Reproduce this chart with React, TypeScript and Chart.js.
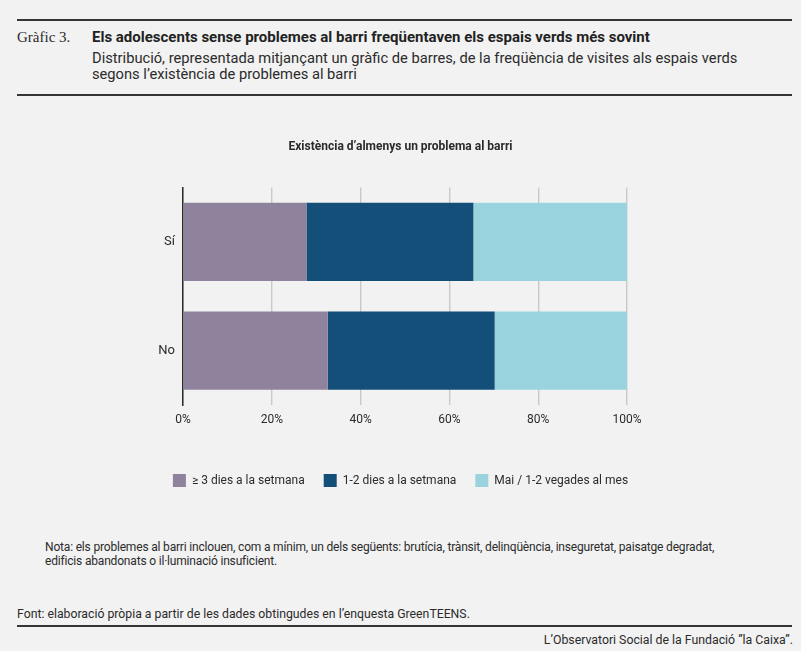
import { useEffect, useRef } from 'react';
import Chart from 'chart.js/auto';

// Gràfic 3 · freqüència de visites als espais verds segons problemes al barri.
const CATEGORIES = ['Sí', 'No'];
const SERIES_LABELS = ['≥ 3 dies a la setmana', '1-2 dies a la setmana', 'Mai / 1-2 vegades al mes'];
const SERIES_COLORS = ['#8f829c', '#134f78', '#99d3dd'];
const FREQ_3PLUS = [27.8, 32.6];
const FREQ_1TO2 = [37.6, 37.6];
const FREQ_RARE = [34.6, 29.8];
const X_TICKS = [0, 20, 40, 60, 80, 100];

const INK = '#2b2b2b';
const GRID = '#c9c9c9';
const BG = '#f2f2f2';
const SANS = 'Roboto, "Liberation Sans", sans-serif';

function BarChart() {
  const ref = useRef<HTMLCanvasElement | null>(null);

  useEffect(() => {
    const ctx = ref.current;
    if (!ctx) return;
    const values = [FREQ_3PLUS, FREQ_1TO2, FREQ_RARE];

    const chart = new Chart(ctx, {
      type: 'bar',
      data: {
        labels: CATEGORIES,
        datasets: SERIES_LABELS.map((label, i) => ({
          label,
          data: values[i],
          backgroundColor: SERIES_COLORS[i],
          borderWidth: 0,
          barPercentage: 1,
          categoryPercentage: 0.72,
        })),
      },
      options: {
        indexAxis: 'y',
        animation: false,
        responsive: true,
        maintainAspectRatio: false,
        layout: { padding: 0 },
        scales: {
          x: {
            stacked: true,
            min: 0,
            max: 100,
            afterBuildTicks: (scale) => {
              scale.ticks = X_TICKS.map((v) => ({ value: v }));
            },
            afterFit: (scale) => {
              scale.height = 50;
            },
            ticks: {
              color: INK,
              padding: 8,
              font: { family: SANS, size: 12 },
              callback: (v) => `${v}%`,
            },
            grid: { color: GRID, lineWidth: 1.4, drawTicks: false },
            border: { display: false },
          },
          y: {
            stacked: true,
            afterFit: (scale) => {
              scale.width = 183;
            },
            ticks: { color: INK, padding: 8, font: { family: SANS, size: 13 } },
            grid: { display: false, drawTicks: false },
            border: { display: true, color: INK, width: 1.5 },
          },
          // empty right-hand spacer so the plot ends at the 100% line
          spacer: {
            type: 'category',
            position: 'right',
            afterFit: (scale) => {
              scale.width = 174;
            },
            ticks: { display: false },
            grid: { display: false, drawTicks: false },
            border: { display: false },
          },
        },
        plugins: {
          title: {
            display: true,
            text: 'Existència d’almenys un problema al barri',
            color: INK,
            font: { family: SANS, size: 12, weight: 'bold' },
            padding: { top: 20, bottom: 33 },
          },
          legend: {
            position: 'bottom',
            labels: {
              color: INK,
              boxWidth: 13,
              boxHeight: 13,
              padding: 19,
              font: { family: SANS, size: 12 },
            },
          },
          tooltip: { enabled: false },
        },
      },
    });

    return () => chart.destroy();
  }, []);

  return <canvas ref={ref} />;
}

export default function App() {
  useEffect(() => {
    document.body.style.margin = '0';
    document.body.style.background = BG;
  }, []);

  const text = { position: 'absolute' as const, color: INK, fontFamily: SANS, whiteSpace: 'nowrap' as const };
  const rule = (top: number) => (
    <div style={{ position: 'absolute', left: 17, width: 775, top, height: 2, background: '#363434' }} />
  );

  return (
    <div style={{ position: 'relative', width: 801, height: 651, background: BG, overflow: 'hidden' }}>
      {rule(19)}
      <div style={{ ...text, left: 17, top: 28, fontFamily: '"Liberation Serif", serif', fontSize: 15, lineHeight: '18px' }}>
        Gràfic 3.
      </div>
      <div style={{ ...text, left: 92, top: 28, fontSize: 15, fontWeight: 700, lineHeight: '18px', color: '#222' }}>
        Els adolescents sense problemes al barri freqüentaven els espais verds més sovint
      </div>
      <div style={{ ...text, left: 92, top: 50, fontSize: 14.7, lineHeight: '16px' }}>
        Distribució, representada mitjançant un gràfic de barres, de la freqüència de visites als espais verds
        <br />
        segons l’existència de problemes al barri
      </div>
      {rule(94)}

      <div style={{ position: 'absolute', left: 0, top: 120, width: 801, height: 377 }}>
        <BarChart />
      </div>

      <div style={{ ...text, left: 45, top: 540, fontSize: 12, letterSpacing: -0.18, lineHeight: '14px' }}>
        Nota: els problemes al barri inclouen, com a mínim, un dels següents: brutícia, trànsit, delinqüència, inseguretat, paisatge degradat,
        <br />
        edificis abandonats o il·luminació insuficient.
      </div>
      <div style={{ ...text, left: 17, top: 606, fontSize: 12.25, lineHeight: '16px' }}>
        Font: elaboració pròpia a partir de les dades obtingudes en l’enquesta GreenTEENS.
      </div>
      {rule(625)}
      <div style={{ ...text, right: 8, top: 632, fontSize: 12.3, lineHeight: '16px' }}>
        L’Observatori Social de la Fundació ”la Caixa”.
      </div>
    </div>
  );
}
